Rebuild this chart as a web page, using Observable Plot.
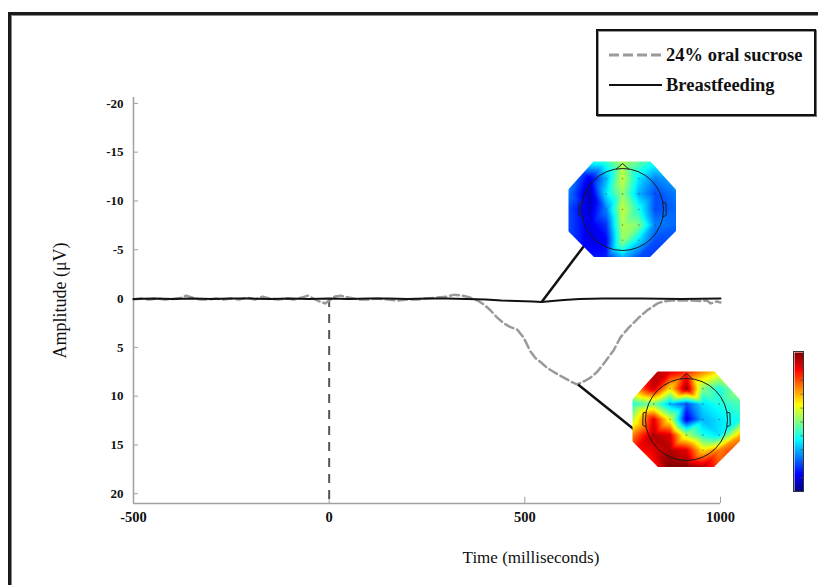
<!DOCTYPE html>
<html>
<head>
<meta charset="utf-8">
<script src="https://cdn.jsdelivr.net/npm/d3@7"></script>
<script src="https://cdn.jsdelivr.net/npm/@observablehq/plot@0.6"></script>
<style>
  html, body { margin: 0; padding: 0; background: #fff; }
  #chart { position: relative; width: 818px; height: 585px; overflow: hidden;
           font-family: "Liberation Serif", "Times New Roman", serif; }
  #frame { position: absolute; left: 8px; top: 12px; width: 900px; height: 700px;
           border-left: 3px solid #1a1a1a; border-top: 3px solid #1a1a1a;
           box-shadow: inset 1px 1px 0 #8a8a8a; }
  #main { position: absolute; left: 0; top: 0; }
  #main g[aria-label$="tick label"] text { font-weight: bold; }
  .topo { position: absolute; width: 108px; height: 96px;
          clip-path: polygon(24% 0, 76% 0, 100% 30%, 100% 73%, 76% 100%, 24% 100%, 0 73%, 0 30%); }
  .topo svg, #colorbar svg { display: block; }
  #colorbar { position: absolute; left: 794px; top: 352px; outline: 1px solid #333; }
  #legend { position: absolute; left: 596px; top: 29px; width: 220px; height: 87px;
            box-sizing: border-box; border: 2px solid #111;
            box-shadow: 1px 1px 0 #777, inset 1px 1px 0 #999; background: #fff; }
  #legend .item { position: absolute; left: 11px; height: 22px; display: flex; align-items: center;
                  font-weight: bold; font-size: 18.5px; color: #111; white-space: nowrap; }
  #legend .item svg { margin-right: 3px; }
</style>
</head>
<body>
<div id="chart">
  <div id="frame"></div>
</div>
<script>
// Axis ticks
const xTicks = [-500, 0, 500, 1000];
const yTicks = [-20, -15, -10, -5, 0, 5, 10, 15, 20];

// Grand-average ERP, 24% oral sucrose (time in ms, amplitude in µV)
const sucroseTime = [-500, -480, -460, -440, -420, -400, -380, -365, -350, -330, -310, -290, -270, -250,
  -230, -210, -190, -170, -150, -130, -110, -90, -70, -55, -40, -25, -10, 0, 15, 30, 50, 75, 100, 125,
  150, 175, 200, 225, 250, 275, 300, 320, 340, 360, 379, 395, 412, 428, 445, 462, 481, 497, 514, 527,
  540, 557, 573, 590, 609, 622, 634, 645, 655, 668, 685, 701, 714, 727, 744, 765, 790, 813, 839, 854,
  875, 898, 925, 949, 965, 975, 990, 1000];
const sucroseAmp = [0.1, 0.0, 0.1, 0.0, 0.1, 0.05, -0.05, -0.3, -0.1, 0.1, 0.1, 0.0, 0.1, 0.0,
  0.1, -0.1, 0.1, -0.2, 0.0, 0.1, 0.0, 0.1, -0.1, -0.3, 0.0, 0.3, 0.5, 0.2, -0.2, -0.3, -0.1, 0.1, 0.1, 0.0,
  0.1, 0.2, 0.1, 0.1, 0.0, -0.1, -0.2, -0.4, -0.3, -0.1, 0.2, 0.6, 1.2, 1.9, 2.5, 2.9, 3.2, 4.0, 5.4, 6.1,
  6.5, 7.1, 7.5, 7.9, 8.3, 8.6, 8.8, 8.6, 8.4, 8.1, 7.5, 6.7, 6.0, 5.3, 4.0, 3.0, 2.0, 1.2, 0.5, 0.3,
  0.2, 0.2, 0.2, 0.25, 0.2, 0.5, 0.3, 0.4];

// Grand-average ERP, breastfeeding
const breastTime = [-500, -450, -400, -350, -300, -250, -200, -150, -100, -50, 0, 50, 100, 150, 200, 250,
  300, 350, 400, 440, 480, 520, 543, 570, 600, 640, 700, 800, 900, 1000];
const breastAmp = [0.05, 0, 0.05, 0, 0.05, 0, 0, 0.05, 0, 0.05, 0, 0.05, 0, 0, 0.05, 0,
  0, 0.05, 0.1, 0.2, 0.25, 0.3, 0.35, 0.25, 0.15, 0.05, 0, 0, 0.05, 0];

// Callouts from each curve's peak to its scalp map
const calloutFromTime = [543, 636];
const calloutFromAmp = [0.35, 8.8];
const calloutToTime = [655, 785];
const calloutToAmp = [-5.6, 13.6];

// Scalp-map electrode grid (head-radius units) and voltages, rows front to back
const topoCols = [-1.32, -0.8, -0.4, 0, 0.4, 0.8, 1.32];
const topoRows = [1.17, 0.75, 0.38, 0, -0.38, -0.75, -1.17];
const breastMap = [
  [-2.5, -2, -1.5, 1, -0.5, -2, -3],
  [-4, -8, -4, 1.5, -3, -5, -4],
  [-5, -9, -3, 0.5, -4, -6, -5],
  [-6, -8.5, -5, 1.5, -2, -6, -5.5],
  [-6, -8, -6.5, 1, 0, -5, -5.5],
  [-6, -8, -7.5, 0.5, -3, -6, -6],
  [-6.5, -7, -7, -4, -6, -6.5, -6.5]
];
const sucroseMap = [
  [6, 9, 8, 7, 5, 3, 2],
  [4, 8.5, 3, 9.5, 0, -2, 1],
  [-2, 0, -4, -6, -3, -2, -1],
  [1, 8, 2, -8, -4, -3, -2],
  [5, 9, 8, 1, -2, -3, 4],
  [7, 8, 9, 8, 3, 5, 7],
  [5, 7, 10, 10, 9, 6, 5]
];
const colorbarTicks = [-8, -6, -4, -2, 0, 2, 4, 6, 8];

// Head outline pieces (head radius = 1)
const headCenter = [{x: 0, y: 0}];
const noseOutline = [[-0.15, 0.99], [0, 1.12], [0.15, 0.99]];
const leftEar = [[-0.99, 0.18], [-1.06, 0.16], [-1.07, -0.14], [-0.99, -0.18]];
const rightEar = [[0.99, 0.18], [1.06, 0.16], [1.07, -0.14], [0.99, -0.18]];

const sucrose = sucroseTime.map((t, i) => ({t, v: sucroseAmp[i]}));
const breast = breastTime.map((t, i) => ({t, v: breastAmp[i]}));
const callouts = calloutFromTime.map((t, i) => ({
  t1: t, v1: calloutFromAmp[i], t2: calloutToTime[i], v2: calloutToAmp[i]
}));

// MATLAB-style "jet" colormap
const jet = d3.piecewise(d3.interpolateRgb, ["#00007f", "#0000ff", "#007fff", "#00ffff", "#7fff7f",
  "#ffff00", "#ff7f00", "#ff0000", "#7f0000"]);
const colorScale = {type: "linear", domain: [-10, 10], interpolate: jet, clamp: true};

const axisGray = "#a0a0a0";
const chart = document.getElementById("chart");

const main = Plot.plot({
  width: 818,
  height: 585,
  marginLeft: 133,
  marginRight: 98,
  marginTop: 97,
  marginBottom: 82,
  style: {fontFamily: "Liberation Serif, Times New Roman, serif", background: "transparent", color: "#111"},
  x: {domain: [-500, 1000]},
  y: {domain: [-20.6, 21], reverse: true},
  marks: [
    Plot.ruleY([21], {stroke: axisGray, strokeWidth: 1.5}),
    Plot.ruleX([-500], {stroke: axisGray, strokeWidth: 1.5}),
    Plot.ruleX(xTicks, {y1: 21, y2: 20.35, stroke: axisGray}),
    Plot.ruleY(yTicks, {x1: -500, x2: -487, stroke: axisGray}),
    Plot.axisX({ticks: xTicks, tickSize: 0, tickPadding: 8, tickFormat: d => `${d}`,
      fontSize: 14.5, fontWeight: "bold", label: null}),
    Plot.axisY({ticks: yTicks, tickSize: 0, tickPadding: 10, tickFormat: d => `${d}`,
      fontSize: 13, fontWeight: "bold", label: null}),
    Plot.ruleX([0], {y1: 0, y2: 21, stroke: "#555", strokeWidth: 2, strokeDasharray: "9,7"}),
    Plot.line(sucrose, {x: "t", y: "v", stroke: "#9a9a9a", strokeWidth: 2.5, strokeDasharray: "9,4"}),
    Plot.line(breast, {x: "t", y: "v", stroke: "#111", strokeWidth: 2}),
    Plot.link(callouts, {x1: "t1", y1: "v1", x2: "t2", y2: "v2", stroke: "#111", strokeWidth: 2.5}),
    Plot.text(["Amplitude (μV)"], {text: d => d, frameAnchor: "left", dx: -73, rotate: -90,
      fontSize: 18, textAnchor: "middle", lineAnchor: "middle"}),
    Plot.text(["Time (milliseconds)"], {text: d => d, frameAnchor: "bottom", dx: 104, dy: 54,
      fontSize: 17, textAnchor: "middle", lineAnchor: "middle"})
  ]
});
main.id = "main";
chart.appendChild(main);

function scalpMap(values) {
  const cells = [];
  values.forEach((row, i) => row.forEach((v, j) => cells.push({x: topoCols[j], y: topoRows[i], v})));
  return Plot.plot({
    width: 108,
    height: 96,
    margin: 0,
    x: {domain: [-1.32, 1.32], axis: null},
    y: {domain: [-1.17, 1.17], axis: null},
    color: colorScale,
    marks: [
      Plot.raster(cells, {x: "x", y: "y", fill: "v", interpolate: "barycentric",
        x1: -1.32, x2: 1.32, y1: -1.17, y2: 1.17}),
      Plot.dot(cells, {x: "x", y: "y", r: 0.8, fill: "#333", fillOpacity: 0.5,
        filter: d => Math.hypot(d.x, d.y) < 0.95}),
      Plot.line(noseOutline, {stroke: "#222", strokeWidth: 1}),
      Plot.line(leftEar, {stroke: "#222", strokeWidth: 1}),
      Plot.line(rightEar, {stroke: "#222", strokeWidth: 1}),
      Plot.dot(headCenter, {x: "x", y: "y", r: 41, stroke: "#1a1a1a", strokeWidth: 1})
    ]
  });
}

const placements = [
  {values: breastMap, left: 568, top: 161},
  {values: sucroseMap, left: 632, top: 371}
];
for (const p of placements) {
  const div = document.createElement("div");
  div.className = "topo";
  div.style.left = p.left + "px";
  div.style.top = p.top + "px";
  div.appendChild(scalpMap(p.values));
  chart.appendChild(div);
}

// Color bar shared by both maps
const cbDiv = document.createElement("div");
cbDiv.id = "colorbar";
cbDiv.appendChild(Plot.plot({
  width: 9,
  height: 139,
  margin: 0,
  x: {domain: [0, 1], axis: null},
  y: {domain: [-10, 10], axis: null},
  color: colorScale,
  marks: [
    Plot.raster({fill: (x, y) => y, x1: 0, x2: 1, y1: -10, y2: 10}),
    Plot.ruleY(colorbarTicks, {x1: 0.7, x2: 1, stroke: "#444", strokeWidth: 0.6})
  ]
}));
chart.appendChild(cbDiv);

// Legend
const legend = document.createElement("div");
legend.id = "legend";
const legendItems = [
  {label: "24% oral sucrose", stroke: "#9a9a9a", dash: "10,4", top: 13},
  {label: "Breastfeeding", stroke: "#111", dash: null, top: 43}
];
for (const item of legendItems) {
  const row = document.createElement("div");
  row.className = "item";
  row.style.top = item.top + "px";
  const svg = d3.create("svg").attr("width", 54).attr("height", 6);
  svg.append("line").attr("x1", 0).attr("x2", 53).attr("y1", 3).attr("y2", 3)
    .attr("stroke", item.stroke).attr("stroke-width", item.dash ? 3 : 2)
    .attr("stroke-dasharray", item.dash);
  row.appendChild(svg.node());
  const span = document.createElement("span");
  span.textContent = item.label;
  row.appendChild(span);
  legend.appendChild(row);
}
chart.appendChild(legend);
</script>
</body>
</html>
